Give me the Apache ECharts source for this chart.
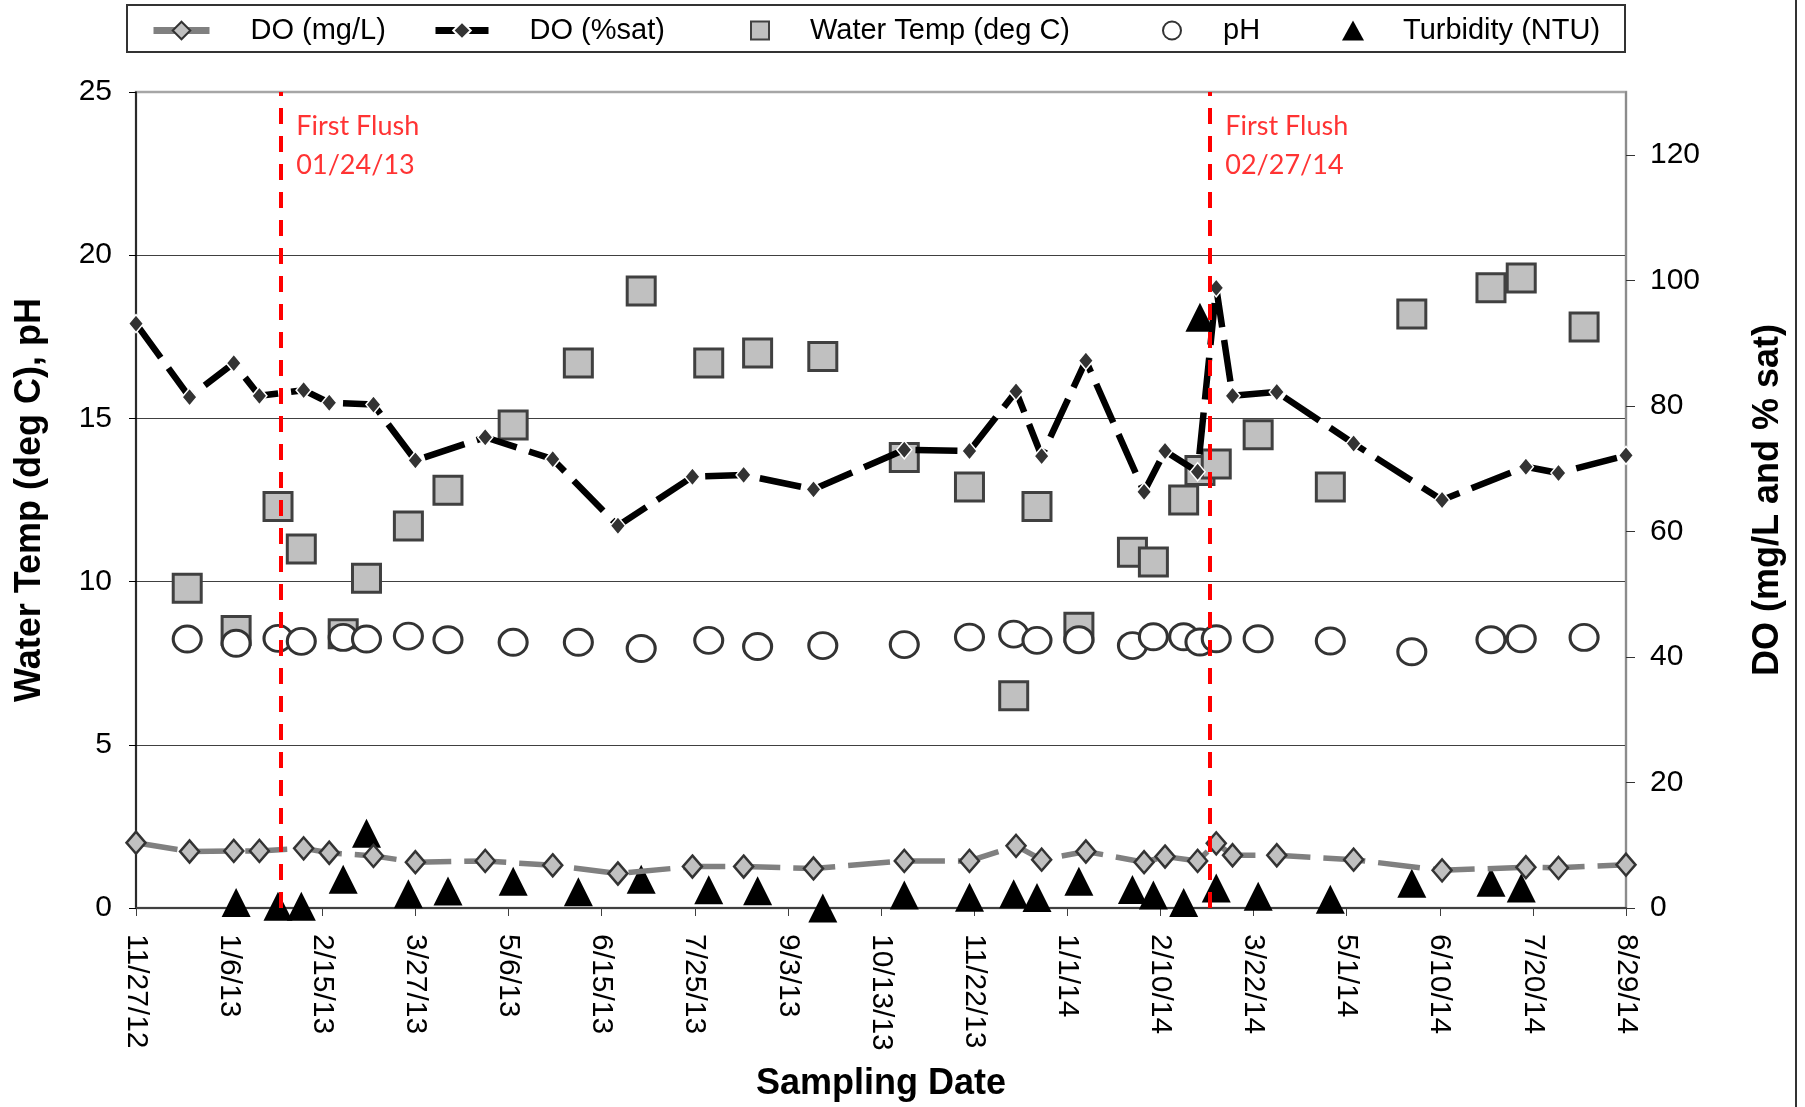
<!DOCTYPE html>
<html>
<head>
<meta charset="utf-8">
<script src="https://cdn.jsdelivr.net/npm/echarts@6/dist/echarts.min.js"></script>
<style>
html, body { margin: 0; padding: 0; background: #fff; }
#container { width: 1805px; height: 1107px; }
</style>
</head>
<body>
<div id="container"></div>
<script>
// x axis runs in days from the first tick label
var tickLabels = ['11/27/12', '1/6/13', '2/15/13', '3/27/13', '5/6/13', '6/15/13', '7/25/13', '9/3/13',
    '10/13/13', '11/22/13', '1/1/14', '2/10/14', '3/22/14', '5/1/14', '6/10/14', '7/20/14', '8/29/14'];

// DO probe visits
var doDates = ['11/27/12', '12/20/12', '1/8/13', '1/19/13', '2/7/13', '2/18/13', '3/9/13', '3/27/13',
    '4/26/13', '5/25/13', '6/22/13', '7/24/13', '8/15/13', '9/14/13', '10/23/13', '11/20/13',
    '12/10/13', '12/21/13', '1/9/14', '2/3/14', '2/12/14', '2/26/14', '3/6/14', '3/13/14',
    '4/1/14', '5/4/14', '6/11/14', '7/17/14', '7/31/14', '8/29/14'];
var doMgL = [10.4, 9.0, 9.1, 9.1, 9.5, 8.8, 8.3, 7.3, 7.5, 6.8, 5.5, 6.6, 6.6, 6.3, 7.5, 7.5,
    9.9, 7.7, 9.0, 7.3, 8.2, 7.5, 10.3, 8.4, 8.4, 7.7, 6.0, 6.5, 6.4, 6.9];
var doSat = [93.1, 81.4, 86.8, 81.6, 82.5, 80.5, 80.2, 71.3, 75.0, 71.5, 60.9, 68.7, 69.0, 66.7, 73.0, 72.8,
    82.3, 72.0, 87.2, 66.3, 72.8, 69.5, 98.8, 81.6, 82.2, 74.0, 65.0, 70.3, 69.3, 72.1];

// grab samples
var sampleDates = ['12/19/12', '1/9/13', '1/27/13', '2/6/13', '2/24/13', '3/6/13', '3/24/13', '4/10/13',
    '5/8/13', '6/5/13', '7/2/13', '7/31/13', '8/21/13', '9/18/13', '10/23/13', '11/20/13',
    '12/9/13', '12/19/13', '1/6/14', '1/29/14', '2/7/14', '2/20/14', '2/27/14', '3/6/14',
    '3/24/14', '4/24/14', '5/29/14', '7/2/14', '7/15/14', '8/11/14'];
var waterTemp = [9.8, 8.5, 12.3, 11.0, 8.4, 10.1, 11.7, 12.8, 14.8, 16.7, 18.9, 16.7, 17.0, 16.9, 13.8, 12.9,
    6.5, 12.3, 8.6, 10.9, 10.6, 12.5, 13.4, 13.6, 14.5, 12.9, 18.2, 19.0, 19.3, 17.8];
var pH = [8.24, 8.11, 8.26, 8.17, 8.29, 8.24, 8.33, 8.22, 8.14, 8.14, 7.95, 8.2, 8.01, 8.04, 8.07, 8.3,
    8.39, 8.2, 8.22, 8.04, 8.31, 8.31, 8.15, 8.25, 8.25, 8.18, 7.85, 8.22, 8.25, 8.29];
var turbidity = [null, 0.17, 0.05, 0.05, 0.88, 2.29, 0.44, 0.52, 0.82, 0.5, 0.88, 0.56, 0.53, 0.0, 0.4, 0.33,
    0.44, 0.32, 0.82, 0.57, 0.4, 0.17, 18.1, 0.61, 0.36, 0.27, 0.76, 0.79, 0.61, null];

// first flush markers (where the dashed lines sit) and their notes
var flushDates = ['1/28/13', '3/3/14'];
var flushNotes = ['First Flush\n01/24/13', 'First Flush\n02/27/14'];

var FONT = "'Liberation Sans', Arial, sans-serif";

function toDay(s) {
    var p = s.split('/');
    var t = Date.UTC(2000 + (+p[2]), +p[0] - 1, +p[1]);
    return Math.round((t - Date.UTC(2012, 10, 27)) / 86400000);
}
function pairs(dates, vals) {
    var out = [];
    for (var i = 0; i < dates.length; i++) {
        if (vals[i] !== null) out.push([toDay(dates[i]), vals[i]]);
    }
    return out;
}

var dom = document.getElementById('container');
var myChart = echarts.init(dom);

function legendItem(name, left, w, h, pad) {
    return {
        data: [name],
        left: left,
        top: 16,
        itemWidth: w,
        itemHeight: h,
        selectedMode: false,
        padding: 0,
        lineStyle: { type: 'solid', width: 7 },
        textStyle: { fontSize: 29, fontFamily: FONT, color: '#000', padding: [0, 0, 0, pad] }
    };
}

var option = {
    animation: false,
    backgroundColor: '#fff',
    grid: {
        left: 136, right: 179, top: 92, bottom: 197,
        show: true, borderColor: '#a6a6a6', borderWidth: 2.5
    },
    legend: [
        legendItem('DO (mg/L)', 150, 56, 22, 36),
        legendItem('DO (%sat)', 432, 53, 22, 36),
        legendItem('Water Temp (deg C)', 750, 18, 18, 36),
        legendItem('pH', 1162, 18, 18, 37),
        legendItem('Turbidity (NTU)', 1342, 22, 20, 34)
    ],
    graphic: [
        { type: 'rect', shape: { x: 127, y: 5, width: 1498, height: 47 },
          style: { fill: 'none', stroke: '#333', lineWidth: 2 }, z: 100 },
        { type: 'line', shape: { x1: 1796, y1: 0, x2: 1796, y2: 1107 },
          style: { stroke: '#333', lineWidth: 2 }, z: 100 }
    ],
    xAxis: {
        type: 'value',
        min: 0, max: 640, interval: 40,
        name: 'Sampling Date',
        nameLocation: 'middle',
        nameGap: 158,
        nameTextStyle: { fontSize: 36, fontWeight: 'bold', fontFamily: FONT, color: '#000' },
        axisLine: { lineStyle: { color: '#404040', width: 2 } },
        axisTick: { show: true, length: 8, lineStyle: { color: '#404040' } },
        axisLabel: {
            rotate: -90, margin: 26, fontSize: 30, fontFamily: FONT, color: '#000',
            formatter: function (v) { return tickLabels[Math.round(v / 40)]; }
        },
        splitLine: { show: false }
    },
    yAxis: [{
        type: 'value',
        min: 0, max: 25, interval: 5,
        name: 'Water Temp (deg C), pH',
        nameLocation: 'middle',
        nameGap: 88,
        nameTextStyle: { fontSize: 36, fontWeight: 'bold', fontFamily: FONT, color: '#000' },
        axisLine: { show: true, lineStyle: { color: '#000', width: 1.5 } },
        axisTick: { show: true, length: 7, lineStyle: { color: '#000' } },
        axisLabel: { margin: 24, fontSize: 30, fontFamily: FONT, color: '#000' },
        splitLine: { show: true, showMaxLine: false, lineStyle: { color: '#404040', width: 1.2 } }
    }, {
        type: 'value',
        position: 'right',
        min: 0, max: 130, interval: 20,
        name: 'DO (mg/L and % sat)',
        nameLocation: 'middle',
        nameGap: 124,
        nameTextStyle: { fontSize: 36, fontWeight: 'bold', fontFamily: FONT, color: '#000' },
        axisLine: { show: true, lineStyle: { color: '#8c8c8c', width: 2 } },
        axisTick: { show: true, length: 9, lineStyle: { color: '#333' } },
        axisLabel: { margin: 24, fontSize: 30, fontFamily: FONT, color: '#000', showMaxLabel: false },
        splitLine: { show: false }
    }],
    series: [{
        name: 'DO (mg/L)',
        type: 'line',
        yAxisIndex: 1,
        data: pairs(doDates, doMgL),
        showAllSymbol: true,
        symbol: 'diamond',
        symbolSize: [19, 22],
        lineStyle: { color: '#808080', width: 5.5, type: [42, 13] },
        itemStyle: { color: '#c0c0c0', borderColor: '#333', borderWidth: 2.5 }
    }, {
        name: 'DO (%sat)',
        type: 'line',
        yAxisIndex: 1,
        data: pairs(doDates, doSat),
        showAllSymbol: true,
        symbol: 'diamond',
        symbolSize: [15, 18],
        lineStyle: { color: '#000', width: 6.5, type: [42, 13] },
        itemStyle: { color: '#333', borderColor: '#fff', borderWidth: 1.5 }
    }, {
        name: 'Water Temp (deg C)',
        type: 'scatter',
        data: pairs(sampleDates, waterTemp),
        symbol: 'rect',
        symbolSize: 28,
        itemStyle: { color: '#c0c0c0', borderColor: '#404040', borderWidth: 3, opacity: 1 }
    }, {
        name: 'pH',
        type: 'scatter',
        data: pairs(sampleDates, pH),
        symbol: 'circle',
        symbolSize: [28, 26],
        itemStyle: { color: '#fff', borderColor: '#333', borderWidth: 3, opacity: 1 }
    }, {
        name: 'Turbidity (NTU)',
        type: 'scatter',
        data: pairs(sampleDates, turbidity),
        symbol: 'triangle',
        symbolSize: [29, 29],
        itemStyle: { color: '#000', opacity: 1 }
    }, {
        name: 'First Flush',
        type: 'scatter',
        silent: true,
        symbolSize: 0,
        data: flushDates.map(function (d, i) {
            return { value: [toDay(d), 23.35], label: { formatter: flushNotes[i] } };
        }),
        label: {
            show: true, position: 'right', distance: 16,
            color: '#ff0000', fontSize: 27, lineHeight: 39, fontFamily: "Lato, 'Open Sans', sans-serif"
        },
        markLine: {
            silent: true,
            symbol: ['none', 'none'],
            label: { show: false },
            lineStyle: { color: '#ff0000', width: 4, type: [16, 12] },
            data: flushDates.map(function (d) { return { xAxis: toDay(d) }; })
        }
    }]
};

if (option && typeof option === 'object') {
    myChart.setOption(option, true);
}
</script>
</body>
</html>
